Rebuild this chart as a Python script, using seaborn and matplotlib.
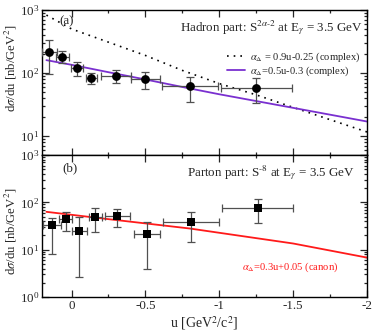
import numpy as np
import pandas as pd
import matplotlib
matplotlib.use("Agg")
import matplotlib.pyplot as plt
from matplotlib.ticker import MultipleLocator, LogLocator
import seaborn as sns

# ---------------- data ----------------
# top panel: hadron part
had_u = [0.15, 0.063, -0.036, -0.135, -0.30, -0.50, -0.80, -1.25]
had_v = [215, 182, 121, 82, 91, 79, 62, 57]
had_hi = [334, 226, 150, 101, 112, 103, 87, 82]
had_lo = [96, 146, 90, 66, 69, 56, 35, 34]
had_xerr = [0.05, 0.043, 0.04, 0.036, 0.10, 0.096, 0.19, 0.24]

dotted_u = [0.17, 0.0, -0.3, -0.5, -0.75, -1.0, -1.25, -1.5, -2.0]
dotted_v = [830, 500, 280, 190, 110, 68, 45, 28.5, 11.6]
purple_u = [0.17, 0.0, -0.25, -0.5, -0.75, -1.0, -1.5, -2.0]
purple_v = [160, 135, 103, 79, 60, 46, 28, 17]

# bottom panel: parton part
par_u = [0.13, 0.039, -0.052, -0.16, -0.311, -0.511, -0.809, -1.259]
par_v = [32.7, 44.4, 24.7, 48.2, 51.3, 21.0, 38.9, 74.7]
par_hi = [46.5, 63, 49.7, 74.7, 72, 37.7, 61.5, 115.6]
par_lo = [8.0, 24.7, 2.6, 23.9, 29.6, 4.0, 14.7, 37]
par_xerr = [0.06, 0.045, 0.052, 0.043, 0.085, 0.091, 0.19, 0.242]

red_u = [0.17, -0.2, -0.8, -1.5, -2.0]
red_v = [63, 46, 28, 13.5, 6.8]

# ---------------- style ----------------
sns.set_style("ticks")
plt.rcParams['font.family'] = ['Liberation Serif', 'DejaVu Serif']
plt.rcParams['mathtext.fontset'] = 'stix'
plt.rcParams['axes.unicode_minus'] = False
FS = 9.4

fig = plt.figure(figsize=(3.74, 3.33), dpi=100)
L, R = 42 / 374, 367 / 374
ax1 = fig.add_axes([L, 1 - 155 / 333, R - L, (155 - 10) / 333])
ax2 = fig.add_axes([L, 1 - 297 / 333, R - L, (297 - 155) / 333])

ebar_col = '#505050'

# top panel
sns.lineplot(x=dotted_u, y=dotted_v, ax=ax1, color='black', lw=1.2,
             linestyle=(0, (1, 3.0)), sort=False, label=r'$\alpha_\Delta$ = 0.9u-0.25 (complex)')
sns.lineplot(x=purple_u, y=purple_v, ax=ax1, color='#7a30d0', lw=1.3, sort=False,
             label=r'$\alpha_\Delta$=0.5u-0.3 (complex)')
hv = np.array(had_v)
ax1.errorbar(had_u, had_v, xerr=had_xerr,
             yerr=[hv - np.array(had_lo), np.array(had_hi) - hv],
             fmt='none', ecolor=ebar_col, elinewidth=0.9, capsize=3, capthick=0.9, zorder=3)
sns.scatterplot(x=had_u, y=had_v, ax=ax1, color='black', marker='o', s=40,
                edgecolor='black', linewidth=0, zorder=4)

# bottom panel
sns.lineplot(x=red_u, y=red_v, ax=ax2, color='#ff1a1a', lw=1.3, sort=False, legend=False)
pv = np.array(par_v)
ax2.errorbar(par_u, par_v, xerr=par_xerr,
             yerr=[pv - np.array(par_lo), np.array(par_hi) - pv],
             fmt='none', ecolor=ebar_col, elinewidth=0.9, capsize=3, capthick=0.9, zorder=3)
sns.scatterplot(x=par_u, y=par_v, ax=ax2, color='black', marker='s', s=26,
                edgecolor='black', linewidth=0, zorder=4)

for ax, ylim in ((ax1, (5, 1000)), (ax2, (1, 1000))):
    ax.set_yscale('log')
    ax.set_xlim(0.2, -2)
    ax.set_ylim(*ylim)
    ax.xaxis.set_major_locator(MultipleLocator(0.5))
    ax.xaxis.set_minor_locator(MultipleLocator(0.25))
    ax.yaxis.set_major_locator(LogLocator(base=10))
    ax.yaxis.set_minor_locator(LogLocator(base=10, subs=np.arange(2, 10)))
    ax.tick_params(which='both', direction='in', top=True, right=True, labelsize=9.4,
                   width=0.9, pad=2)
    ax.tick_params(which='major', length=5)
    ax.tick_params(which='minor', length=2.5)
    for sp in ax.spines.values():
        sp.set_linewidth(1.0)
        sp.set_color('black')
    ax.set_ylabel(r'd$\sigma$/du [nb/GeV$^2$]', fontsize=9.2, labelpad=1)

ax1.tick_params(axis='x', labelbottom=False)
ax1.yaxis.set_label_coords(-0.07, 0.6)
ax2.yaxis.set_label_coords(-0.07, 0.46)
ax2.set_xticks([0, -0.5, -1, -1.5, -2])
ax2.set_xticklabels(['0', '-0.5', '-1', '-1.5', '-2'])
ax2.set_xlabel(r'u [GeV$^2$/c$^2$]', fontsize=FS + 0.6, labelpad=2)

leg = ax1.legend(loc='upper right', bbox_to_anchor=(1.0, 0.765), frameon=False,
                 fontsize=7.6, handlelength=1.7, handletextpad=0.5, labelspacing=0.05,
                 borderaxespad=0.2)

ax1.text(0.077, 0.925, '(a)', transform=ax1.transAxes, fontsize=FS, ha='center', va='center')
ax1.text(0.988, 0.876, r'Hadron part: S$^{2\alpha\text{-}2}$ at E$_\gamma$ = 3.5 GeV',
         transform=ax1.transAxes, fontsize=FS, ha='right', va='center')
ax2.text(0.086, 0.905, '(b)', transform=ax2.transAxes, fontsize=FS, ha='center', va='center')
ax2.text(0.446, 0.873, r'Parton part: S$^{\text{-}8}$ at E$_\gamma$ = 3.5 GeV',
         transform=ax2.transAxes, fontsize=FS, ha='left', va='center')
ax2.text(0.763, 0.21, r'$\alpha_\Delta$=0.3u+0.05 (canon)', transform=ax2.transAxes,
         fontsize=7.6, ha='center', va='center', color='#ff1a1a')

fig.savefig('out.png', dpi=100)
